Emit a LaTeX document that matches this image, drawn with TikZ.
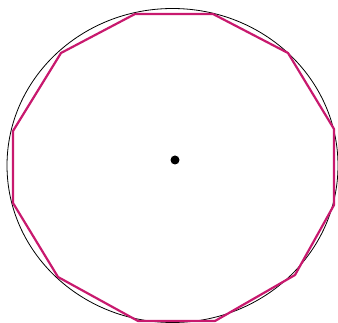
\documentclass[tikz,border=0pt]{standalone}
\definecolor{polymag}{RGB}{200,25,110}
\begin{document}
\begin{tikzpicture}[x=1pt,y=-1pt,
  circ/.style={draw=black,line width=0.8pt},
  poly/.style={draw=polymag,line width=2.2pt,line join=round}]
\useasboundingbox (0,0) rectangle (338,323);
\coordinate (C) at (172.5,165.5);
\draw[circ] (C) ellipse [x radius=165.5, y radius=157];
\draw[poly] (135,14) -- (213,14) -- (288,53) -- (334,129) -- (334,205) -- (295,275)
  -- (215,321) -- (138,321) -- (58,277) -- (13,203) -- (13,131) -- (61,53) -- cycle;
\fill[black] (175,160) circle (4.5);
\end{tikzpicture}
\end{document}
